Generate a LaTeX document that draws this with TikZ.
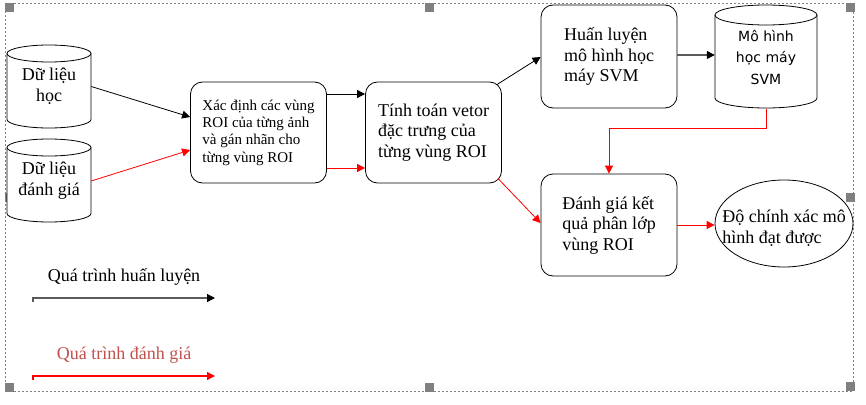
\documentclass[tikz,border=0pt]{standalone}
\usepackage{fontspec}
\setmainfont{Liberation Serif}
\newfontfamily\svmfont{DejaVu Sans}
\usetikzlibrary{arrows.meta,calc,shapes.geometric}
\definecolor{legred}{RGB}{192,80,77}
\definecolor{linegray}{RGB}{90,90,90}
\definecolor{handlegray}{RGB}{128,128,128}
\begin{document}
\begin{tikzpicture}[x=1pt,y=-1pt,
  tip/.style={-{Triangle[length=8pt,width=8pt]}},
  blk/.style={tip,draw=black,line width=0.8pt},
  redl/.style={tip,draw=red,line width=0.8pt},
  gryl/.style={-{Triangle[length=8pt,width=8pt,color=black]},draw=linegray,line width=1.4pt},
  procbox/.style={draw=black,line width=0.8pt,rounded corners=12pt,minimum width=136pt,minimum height=101pt,inner sep=0pt,align=left},
  bigtxt/.style={font=\fontsize{18}{20.5}\selectfont},
  smalltxt/.style={font=\fontsize{15}{17.3}\selectfont},
  cylbody/.style={draw=black,line width=0.8pt,fill=white},
  handle/.style={fill=handlegray,draw=none,minimum size=9pt,inner sep=0pt},
  frameline/.style={draw=gray,line width=0.6pt,dash pattern=on 2pt off 2pt}
]
\useasboundingbox (0,0) rectangle (866,404);
% selection frame
\draw[frameline] (5.5,3.5) rectangle (853,391);
\foreach \hx/\hy [count=\i] in {9.5/7.5,429.5/7.5,850.5/7.5,9.5/197.5,850.5/197.5,9.5/387.5,429.5/387.5,850.5/386.5}
  \node[handle] (h\i) at (\hx,\hy) {};

% cylinder 1
\draw[cylbody] (7,53.5) -- (7,119.5) arc[start angle=180,end angle=360,x radius=42pt,y radius=8.5pt] -- (91,53.5);
\draw[cylbody] (49,53.5) ellipse [x radius=42pt,y radius=8.5pt];
\node[minimum width=84pt,minimum height=83pt,inner sep=0pt,align=center,bigtxt,font=\fontsize{18}{21}\selectfont] (c1) at (49,86.5) {Dữ liệu\\học};

% cylinder 2
\draw[cylbody] (7,147.5) -- (7,213.5) arc[start angle=180,end angle=360,x radius=42pt,y radius=8.5pt] -- (91,147.5);
\draw[cylbody] (49,147.5) ellipse [x radius=42pt,y radius=8.5pt];
\node[minimum width=84pt,minimum height=83pt,inner sep=0pt,align=center,font=\fontsize{18}{21}\selectfont] (c2) at (49,181) {Dữ liệu\\đánh giá};

% SVM cylinder
\draw[cylbody] (715,15) -- (715,98) arc[start angle=180,end angle=360,x radius=51pt,y radius=10pt] -- (817,15);
\draw[cylbody] (766,15) ellipse [x radius=51pt,y radius=10pt];
\node[minimum width=102pt,minimum height=103pt,inner sep=0pt,align=center,font=\svmfont\fontsize{14}{21.5}\selectfont] (svm) at (766,57.5) {Mô hình\\học máy\\SVM};

% process boxes
\node[procbox,smalltxt] (b1) at (258.5,132.5) {Xác định các vùng\\ROI của từng ảnh\\và gán nhãn cho\\từng vùng ROI};
\node[procbox,bigtxt] (b2) at (433.5,132.5) {Tính toán vetor\\đặc trưng của\\từng vùng ROI};
\node[procbox,bigtxt,minimum height=103pt] (b3) at (609,56.5) {Huấn luyện\\mô hình học\\máy SVM};
\node[procbox,bigtxt,minimum height=102pt] (b4) at (609,225) {Đánh giá kết\\quả phân lớp\\vùng ROI};

% ellipse
\node[ellipse,draw=black,line width=0.8pt,minimum width=138pt,minimum height=87pt,inner sep=0pt] (e) at (784,223.5) {};
\node[align=left,bigtxt,inner sep=0pt] (et) at (784,228) {Độ chính xác mô\\hình đạt được};

% connectors
\draw[blk] (c1.east) -- ($(b1.west)+(0,-15.5)$);
\draw[redl] (c2.east) -- ($(b1.west)+(0,17.5)$);
\draw[blk] ($(b1.east)+(0,-38.5)$) -- ($(b2.west)+(0,-38.5)$);
\draw[redl] ($(b1.east)+(0,35.5)$) -- ($(b2.west)+(0,35.5)$);
\draw[blk] ($(b2.north east)+(-5,3)$) -- ($(b3.west)+(0,0.5)$);
\draw[gryl] ($(b3.east)+(0,-1.5)$) -- ($(svm.west)+(0,-2.5)$);
\draw[redl] (svm.south) -- ++(0,19) -| (b4.north);
\draw[redl] ($(b2.south east)+(-4,-5)$) -- ($(b4.west)+(0,-2)$);
\draw[redl] ($(b4.east)+(0,0)$) -- (e.west |- b4.east);

% legend
\node[font=\fontsize{18}{20}\selectfont,inner sep=0pt] (lt1) at (124,277) {Quá trình huấn luyện};
\coordinate (l1a) at (33,302);
\coordinate (l1b) at (33,298);
\coordinate (l1c) at (215,298);
\draw[gryl,line width=1.2pt] (l1a) -- (l1b) -- (l1c);
\node[font=\fontsize{18}{20}\selectfont,text=legred,inner sep=0pt] (lt2) at (124,355) {Quá trình đánh giá};
\coordinate (l2a) at (33,380);
\coordinate (l2b) at (33,376);
\coordinate (l2c) at (215,376);
\draw[redl,line width=1.2pt] (l2a) -- (l2b) -- (l2c);
\end{tikzpicture}
\end{document}
